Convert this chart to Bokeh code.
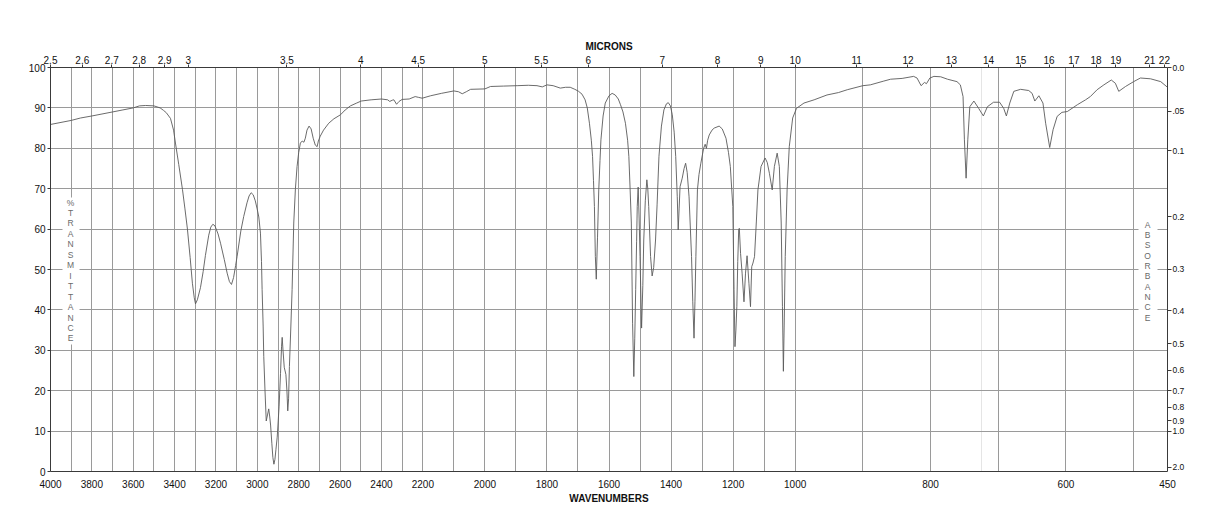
from bokeh.plotting import figure
from bokeh.models import FixedTicker, LinearAxis, Grid, Label, Range1d, ColumnDataSource
from bokeh.core.properties import value
from bokeh.embed import file_html
from bokeh.resources import INLINE

# ---------------- data ----------------
wavenumber = [
    4000, 3900, 3855, 3800, 3700, 3650, 3600, 3570, 3540, 3500, 3470, 3454, 3440, 3420, 3405,
    3396, 3380, 3362, 3350, 3338, 3325, 3314, 3305, 3299, 3290, 3275, 3262, 3251, 3235, 3225,
    3215, 3205, 3190, 3178, 3160, 3146, 3135, 3125, 3115, 3105, 3098, 3080, 3066, 3050, 3040,
    3030, 3020, 3010, 3001, 2993, 2985, 2980, 2977, 2972, 2969, 2963, 2957, 2951, 2945, 2940,
    2936, 2930, 2925, 2920, 2915, 2910, 2904, 2895, 2888, 2883, 2880, 2876, 2870, 2862, 2857,
    2853, 2849, 2845, 2838, 2832, 2824, 2816, 2808, 2800, 2792, 2783, 2775, 2768, 2760, 2750,
    2740, 2730, 2720, 2711, 2705, 2696, 2680, 2655, 2630, 2598, 2575, 2550, 2520, 2498, 2450,
    2400, 2370, 2360, 2348, 2340, 2327, 2315, 2300, 2266, 2237, 2220, 2203,
    2175, 2140, 2100, 2085, 2073, 2060, 2046, 2000, 1982, 1940, 1896, 1860, 1832, 1815, 1800,
    1780, 1757, 1740, 1725, 1710, 1698, 1687, 1677, 1670, 1663, 1657, 1653, 1650, 1647, 1644,
    1641, 1637, 1633, 1629, 1626, 1619, 1612, 1600, 1590, 1580, 1570, 1563, 1555, 1547, 1540,
    1536, 1532, 1528, 1524, 1520, 1517, 1514, 1511, 1509, 1506, 1503, 1500, 1495, 1491, 1488,
    1483, 1478, 1475, 1472, 1466, 1461, 1456, 1450, 1445, 1439, 1431, 1423, 1415, 1409, 1402,
    1396, 1390, 1385, 1380, 1377, 1374, 1371, 1364, 1358, 1353, 1348, 1342, 1334, 1330, 1326,
    1323, 1320, 1315, 1310, 1304, 1295, 1290, 1286, 1282, 1277, 1268, 1261, 1245, 1235, 1223,
    1215, 1209, 1201, 1197, 1194, 1191, 1188, 1185, 1182, 1180, 1176, 1171, 1165, 1160, 1155,
    1149, 1144, 1140, 1136, 1131, 1125, 1120, 1110, 1097, 1090, 1083, 1074, 1067, 1058, 1051,
    1045, 1041, 1038, 1035, 1032, 1026, 1019, 1008,
    998, 987, 972, 953, 936, 923, 900, 889, 870, 859, 842, 825, 820, 814, 809,
    806, 801, 795, 785, 775, 761, 756, 752, 750, 747.5, 745, 742, 736, 729, 722,
    716, 707, 698, 692, 688, 683, 677, 667, 655, 650, 646, 640, 634, 630, 624,
    619, 613, 606, 598, 583, 571, 564, 554, 544, 533, 527, 522, 512, 500, 490,
    475, 460, 450,
]
transmittance = [
    85.9, 86.9, 87.5, 88.0, 89.0, 89.5, 90.0, 90.5, 90.6, 90.5, 90.0, 89.4, 88.8, 87.4, 84.5,
    81.3, 76.0, 69.8, 65.0, 60.0, 53.0, 46.6, 43.0, 41.5, 42.5, 45.5, 49.5, 53.5, 58.5, 60.5,
    61.2, 60.8, 58.8, 56.5, 52.5, 49.1, 47.0, 46.3, 48.0, 51.0, 53.2, 59.5, 63.1, 66.5, 68.2,
    69.0, 68.5, 67.0, 65.0, 63.0, 59.0, 52.0, 45.0, 36.0, 28.5, 20.0, 12.5, 14.0, 15.5, 13.5,
    11.5, 7.0, 3.5, 1.8, 3.0, 5.5, 8.5, 16.0, 24.3, 31.0, 33.2, 30.0, 25.8, 24.0, 20.0,
    15.0, 18.0, 26.0, 36.0, 45.0, 61.5, 70.0, 75.5, 79.0, 81.3, 81.8, 81.5, 82.5, 84.5, 85.5,
    84.8, 82.5, 80.8, 80.4, 81.8, 83.0, 84.5, 86.2, 87.3, 88.3, 89.5, 90.5, 91.2, 91.7, 92.0,
    92.2, 92.0, 91.6, 91.9, 92.0, 90.9, 91.6, 92.1, 92.2, 92.8, 92.6, 92.4,
    93.0, 93.6, 94.2, 94.0, 93.5, 94.0, 94.6, 94.7, 95.3, 95.4, 95.5, 95.6, 95.5, 95.2, 95.7,
    95.5, 94.9, 95.1, 95.1, 94.6, 94.1, 93.4, 92.0, 90.0, 86.2, 82.0, 78.0, 72.0, 65.6, 53.2,
    47.6, 58.0, 69.7, 77.0, 82.1, 88.0, 91.2, 93.0, 93.6, 93.2, 92.2, 90.8, 89.0, 86.2, 82.0,
    78.0, 70.0, 61.5, 36.7, 23.5, 33.0, 45.0, 57.0, 65.6, 70.4, 63.0, 53.2, 35.5, 46.0, 57.3,
    67.0, 72.2, 70.0, 65.6, 53.2, 48.4, 50.5, 57.3, 66.0, 78.0, 85.5, 89.5, 91.0, 91.3, 90.5,
    88.3, 84.0, 78.0, 68.0, 59.8, 65.0, 70.5, 72.6, 75.0, 76.3, 74.0, 68.0, 53.2, 42.0, 33.0,
    42.0, 53.2, 69.7, 73.5, 76.3, 80.0, 81.0, 80.0, 82.0, 83.3, 84.5, 85.0, 85.5, 84.8, 82.5,
    79.0, 75.5, 65.6, 45.0, 30.9, 35.0, 40.8, 52.0, 59.8, 60.2, 54.0, 49.1, 42.0, 49.1, 53.4,
    46.6, 40.8, 50.7, 51.6, 53.2, 62.0, 69.7, 75.5, 77.6, 76.5, 73.8, 69.7, 75.5, 78.8, 75.5,
    61.5, 40.8, 24.8, 38.0, 53.2, 69.7, 80.4, 87.5,
    89.9, 91.2, 92.0, 93.2, 93.8, 94.5, 95.5, 95.7, 96.6, 97.1, 97.3, 97.8, 97.4, 95.5, 96.3,
    96.0, 97.4, 97.8, 97.7, 97.1, 96.5, 95.7, 92.8, 82.1, 72.6, 82.1, 90.3, 91.7, 89.9, 88.0,
    90.3, 91.4, 91.4, 89.9, 88.0, 91.2, 94.1, 94.6, 94.3, 93.6, 91.7, 93.0, 91.2, 86.2, 80.2,
    84.6, 87.9, 88.9, 89.1, 90.8, 92.0, 92.8, 94.5, 95.7, 96.9, 96.1, 94.1, 95.3, 96.5, 97.4,
    97.2, 96.5, 95.1,
]

wavenumber_labels = [4000, 3800, 3600, 3400, 3200, 3000, 2800, 2600, 2400, 2200, 2000,
                     1800, 1600, 1400, 1200, 1000, 800, 600, 450]
grid_wavenumbers = list(range(3900, 499, -100))
micron_labels = [2.5, 2.6, 2.7, 2.8, 2.9, 3, 3.5, 4, 4.5, 5, 5.5, 6, 7, 8, 9, 10,
                 11, 12, 13, 14, 15, 16, 17, 18, 19, 21, 22]
transmittance_ticks = [0, 10, 20, 30, 40, 50, 60, 70, 80, 90, 100]
absorbance_values = [0.0, 0.05, 0.1, 0.2, 0.3, 0.4, 0.5, 0.6, 0.7, 0.8, 0.9, 1.0, 2.0]
absorbance_labels = ["0.0", ".05", "0.1", "0.2", "0.3", "0.4", "0.5", "0.6", "0.7",
                     "0.8", "0.9", "1.0", "2.0"]


# piecewise wavenumber scale of the chart paper: 4000-2200, 2200-1000, 1000-450 equal thirds
def to_u(wn):
    if wn >= 2200:
        return (4000.0 - wn) / 1800.0
    if wn >= 1000:
        return 1.0 + (2200.0 - wn) / 1200.0
    return 2.0 + (1000.0 - wn) / 550.0


FONT = "Liberation Sans"
AXIS_COLOR = "#3a3a3a"
GRID_COLOR = "#9a9a9a"

# frame: left 50, right 1167, top 67, bottom 471
p = figure(width=1218, height=528, x_range=Range1d(0, 3), y_range=Range1d(0, 100),
           x_axis_location=None, y_axis_location=None,
           output_backend="svg", toolbar_location=None,
           min_border_left=50, min_border_right=51, min_border_top=67, min_border_bottom=57)
p.outline_line_color = None
p.background_fill_color = "white"
p.border_fill_color = "white"

# grids
p.add_layout(Grid(dimension=0, ticker=FixedTicker(ticks=[to_u(w) for w in grid_wavenumbers]),
                  grid_line_color=GRID_COLOR, grid_line_width=1))
p.add_layout(Grid(dimension=1, ticker=FixedTicker(ticks=transmittance_ticks[1:-1]),
                  grid_line_color=GRID_COLOR, grid_line_width=1))


def style(ax, size="10px"):
    ax.axis_line_color = AXIS_COLOR
    ax.axis_line_width = 1
    ax.major_tick_line_color = AXIS_COLOR
    ax.minor_tick_line_color = None
    ax.major_tick_in = 0
    ax.major_label_text_font = FONT
    ax.major_label_text_font_size = size
    ax.major_label_text_color = "#111111"
    ax.axis_label_text_font = FONT
    ax.axis_label_text_font_size = "10px"
    ax.axis_label_text_font_style = "bold"
    ax.axis_label_text_color = "#111111"


# bottom: wavenumbers
bt = [to_u(w) for w in wavenumber_labels]
bottom = LinearAxis(ticker=FixedTicker(ticks=bt),
                    major_label_overrides={u: str(w) for u, w in zip(bt, wavenumber_labels)},
                    axis_label="WAVENUMBERS")
style(bottom)
bottom.major_tick_out = 0
bottom.major_tick_line_color = None
bottom.major_label_standoff = 8
bottom.axis_label_standoff = 2
p.add_layout(bottom, "below")

# top: microns
tt = [to_u(10000.0 / m) for m in micron_labels]
top = LinearAxis(ticker=FixedTicker(ticks=tt),
                 major_label_overrides={u: f"{m:g}" for u, m in zip(tt, micron_labels)},
                 axis_label="MICRONS")
style(top)
top.major_tick_out = 3
top.major_label_standoff = 1
top.axis_label_standoff = 1
p.add_layout(top, "above")

# left: % transmittance
left = LinearAxis(ticker=FixedTicker(ticks=transmittance_ticks))
style(left)
left.major_tick_out = 3
left.major_label_standoff = 2
p.add_layout(left, "left")

# right: absorbance
at = [100.0 * 10 ** (-a) for a in absorbance_values]
right = LinearAxis(ticker=FixedTicker(ticks=at),
                   major_label_overrides={t: lab for t, lab in zip(at, absorbance_labels)})
style(right, size="8.5px")
right.major_tick_out = 4
right.major_label_standoff = 1
p.add_layout(right, "right")

# stacked side labels with white backing
px_u = 3.0 / 1117.0
px_t = 100.0 / 404.0


def px_to_u(x):
    return (x - 50) * px_u


def px_to_t(y):
    return (471 - y) * px_t


def stacked(text, x_px, y0_px, step_px, box):
    x0, x1, y0, y1 = box
    p.quad(left=[px_to_u(x0)], right=[px_to_u(x1)], top=[px_to_t(y0)], bottom=[px_to_t(y1)],
           fill_color="white", line_color=None)
    src = ColumnDataSource(dict(
        x=[px_to_u(x_px)] * len(text),
        y=[px_to_t(y0_px + i * step_px) for i in range(len(text))],
        t=list(text)))
    p.text(x="x", y="y", text="t", source=src, text_align="center", text_baseline="middle",
           text_font=value(FONT), text_font_size="8.5px", text_color="#6a6a6a")


stacked("%TRANSMITTANCE", 70, 202, 10.46, (62, 79, 197, 344))
stacked("ABSORBANCE", 1147, 224, 10.35, (1138, 1157, 216, 324))

# spectrum
p.line(x=[to_u(w) for w in wavenumber], y=transmittance, line_color="#5a5a5a", line_width=0.9)

p.add_layout(Label(x=3.0, y=100 + 22 * px_t, x_offset=5, text="NICOLET 20SX FT-IR",
                   text_align="right", text_baseline="middle", text_font=FONT,
                   text_font_size="10px", text_font_style="bold", text_color="#111111"))

open("out.html", "w").write(file_html(p, INLINE))
